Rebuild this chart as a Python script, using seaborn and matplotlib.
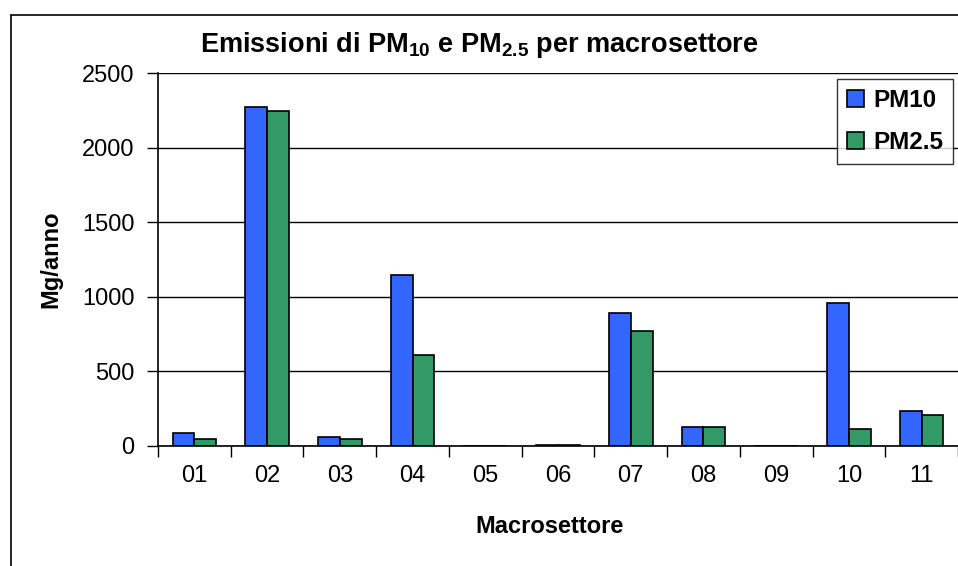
#Emissioni PM10 / PM2.5 per macrosettore

import pandas as pd
import seaborn as sns
import matplotlib.pyplot as plt
from matplotlib.ticker import FixedLocator

macrosettori = ["01", "02", "03", "04", "05", "06", "07", "08", "09", "10", "11"]
pm10 = [85, 2270, 60, 1144, 0, 9, 889, 125, 0, 956, 234]
pm25 = [45, 2245, 45, 608, 0, 7, 769, 125, 0, 114, 206]
serie = ["PM10", "PM2.5"]
colori = ["#3366FF", "#339966"]

df = pd.DataFrame({
    "Macrosettore": macrosettori * 2,
    "Mg/anno": pm10 + pm25,
    "Inquinante": [serie[0]] * len(pm10) + [serie[1]] * len(pm25),
})

sns.set_style("white")
plt.rcParams['font.family'] = ['Liberation Sans', 'DejaVu Sans']
plt.rcParams['text.color'] = 'black'
plt.rcParams['axes.labelcolor'] = 'black'
plt.rcParams['xtick.color'] = 'black'
plt.rcParams['ytick.color'] = 'black'
plt.rcParams['mathtext.fontset'] = 'custom'
plt.rcParams['mathtext.bf'] = 'Liberation Sans:bold'
plt.rcParams['mathtext.rm'] = 'Liberation Sans:bold'

fig = plt.figure(figsize=(9.58, 5.66), dpi=100)
ax = fig.add_axes([158/958, 1 - 446/566, 800/958, 373/566])

sns.barplot(data=df, x="Macrosettore", y="Mg/anno", hue="Inquinante",
            palette=colori, width=0.6, edgecolor="black", linewidth=1.2,
            saturation=1, ax=ax)

ax.set_ylim(0, 2500)
ax.set_xlim(-0.5, len(macrosettori) - 0.5)
ax.set_yticks([0, 500, 1000, 1500, 2000, 2500])
ax.yaxis.grid(True, color="black", linewidth=1)
ax.set_axisbelow(True)

# ticks on x at category boundaries
ax.xaxis.set_minor_locator(FixedLocator([i - 0.5 for i in range(len(macrosettori) + 1)]))
ax.tick_params(axis="x", which="major", length=0, pad=14, labelsize=17)
ax.tick_params(axis="x", which="minor", length=8, width=1, direction="out", color="black", bottom=True)
ax.tick_params(axis="y", length=8, width=1, direction="out", color="black", left=True, pad=9, labelsize=17)

for s in ["top", "right"]:
    ax.spines[s].set_visible(False)
for s in ["left", "bottom"]:
    ax.spines[s].set_color("black")
    ax.spines[s].set_linewidth(1.2)

ax.set_xlabel("Macrosettore", fontsize=17, fontweight="bold", va="top")
ax.xaxis.set_label_coords(0.49, -0.185)
ax.set_ylabel("Mg/anno", fontsize=17, fontweight="bold")
ax.yaxis.set_label_coords(-0.119, 0.5)

leg = ax.legend(loc="upper right", bbox_to_anchor=(953/958, 1 - 79/566),
                bbox_transform=fig.transFigure, frameon=True, fancybox=False,
                handlelength=0.7, handleheight=0.7, handletextpad=0.4,
                borderpad=0.4, labelspacing=0.8, borderaxespad=0,
                prop={"size": 17.5, "weight": "bold"})
leg.get_frame().set_edgecolor("black")
leg.get_frame().set_linewidth(1)

fig.text(0.5, 1 - 45/566, r"Emissioni di PM$_{\mathbf{10}}$ e PM$_{\mathbf{2.5}}$ per macrosettore",
         ha="center", va="center", fontsize=19.5, fontweight="bold")

# cornice esterna
x0 = 11/958
y0 = 1 - 15/566
fig.add_artist(plt.Line2D([x0, x0], [0, y0], color="black", linewidth=1.2))
fig.add_artist(plt.Line2D([x0, 1], [y0, y0], color="black", linewidth=1.2))

plt.savefig("out.png", dpi=100)
